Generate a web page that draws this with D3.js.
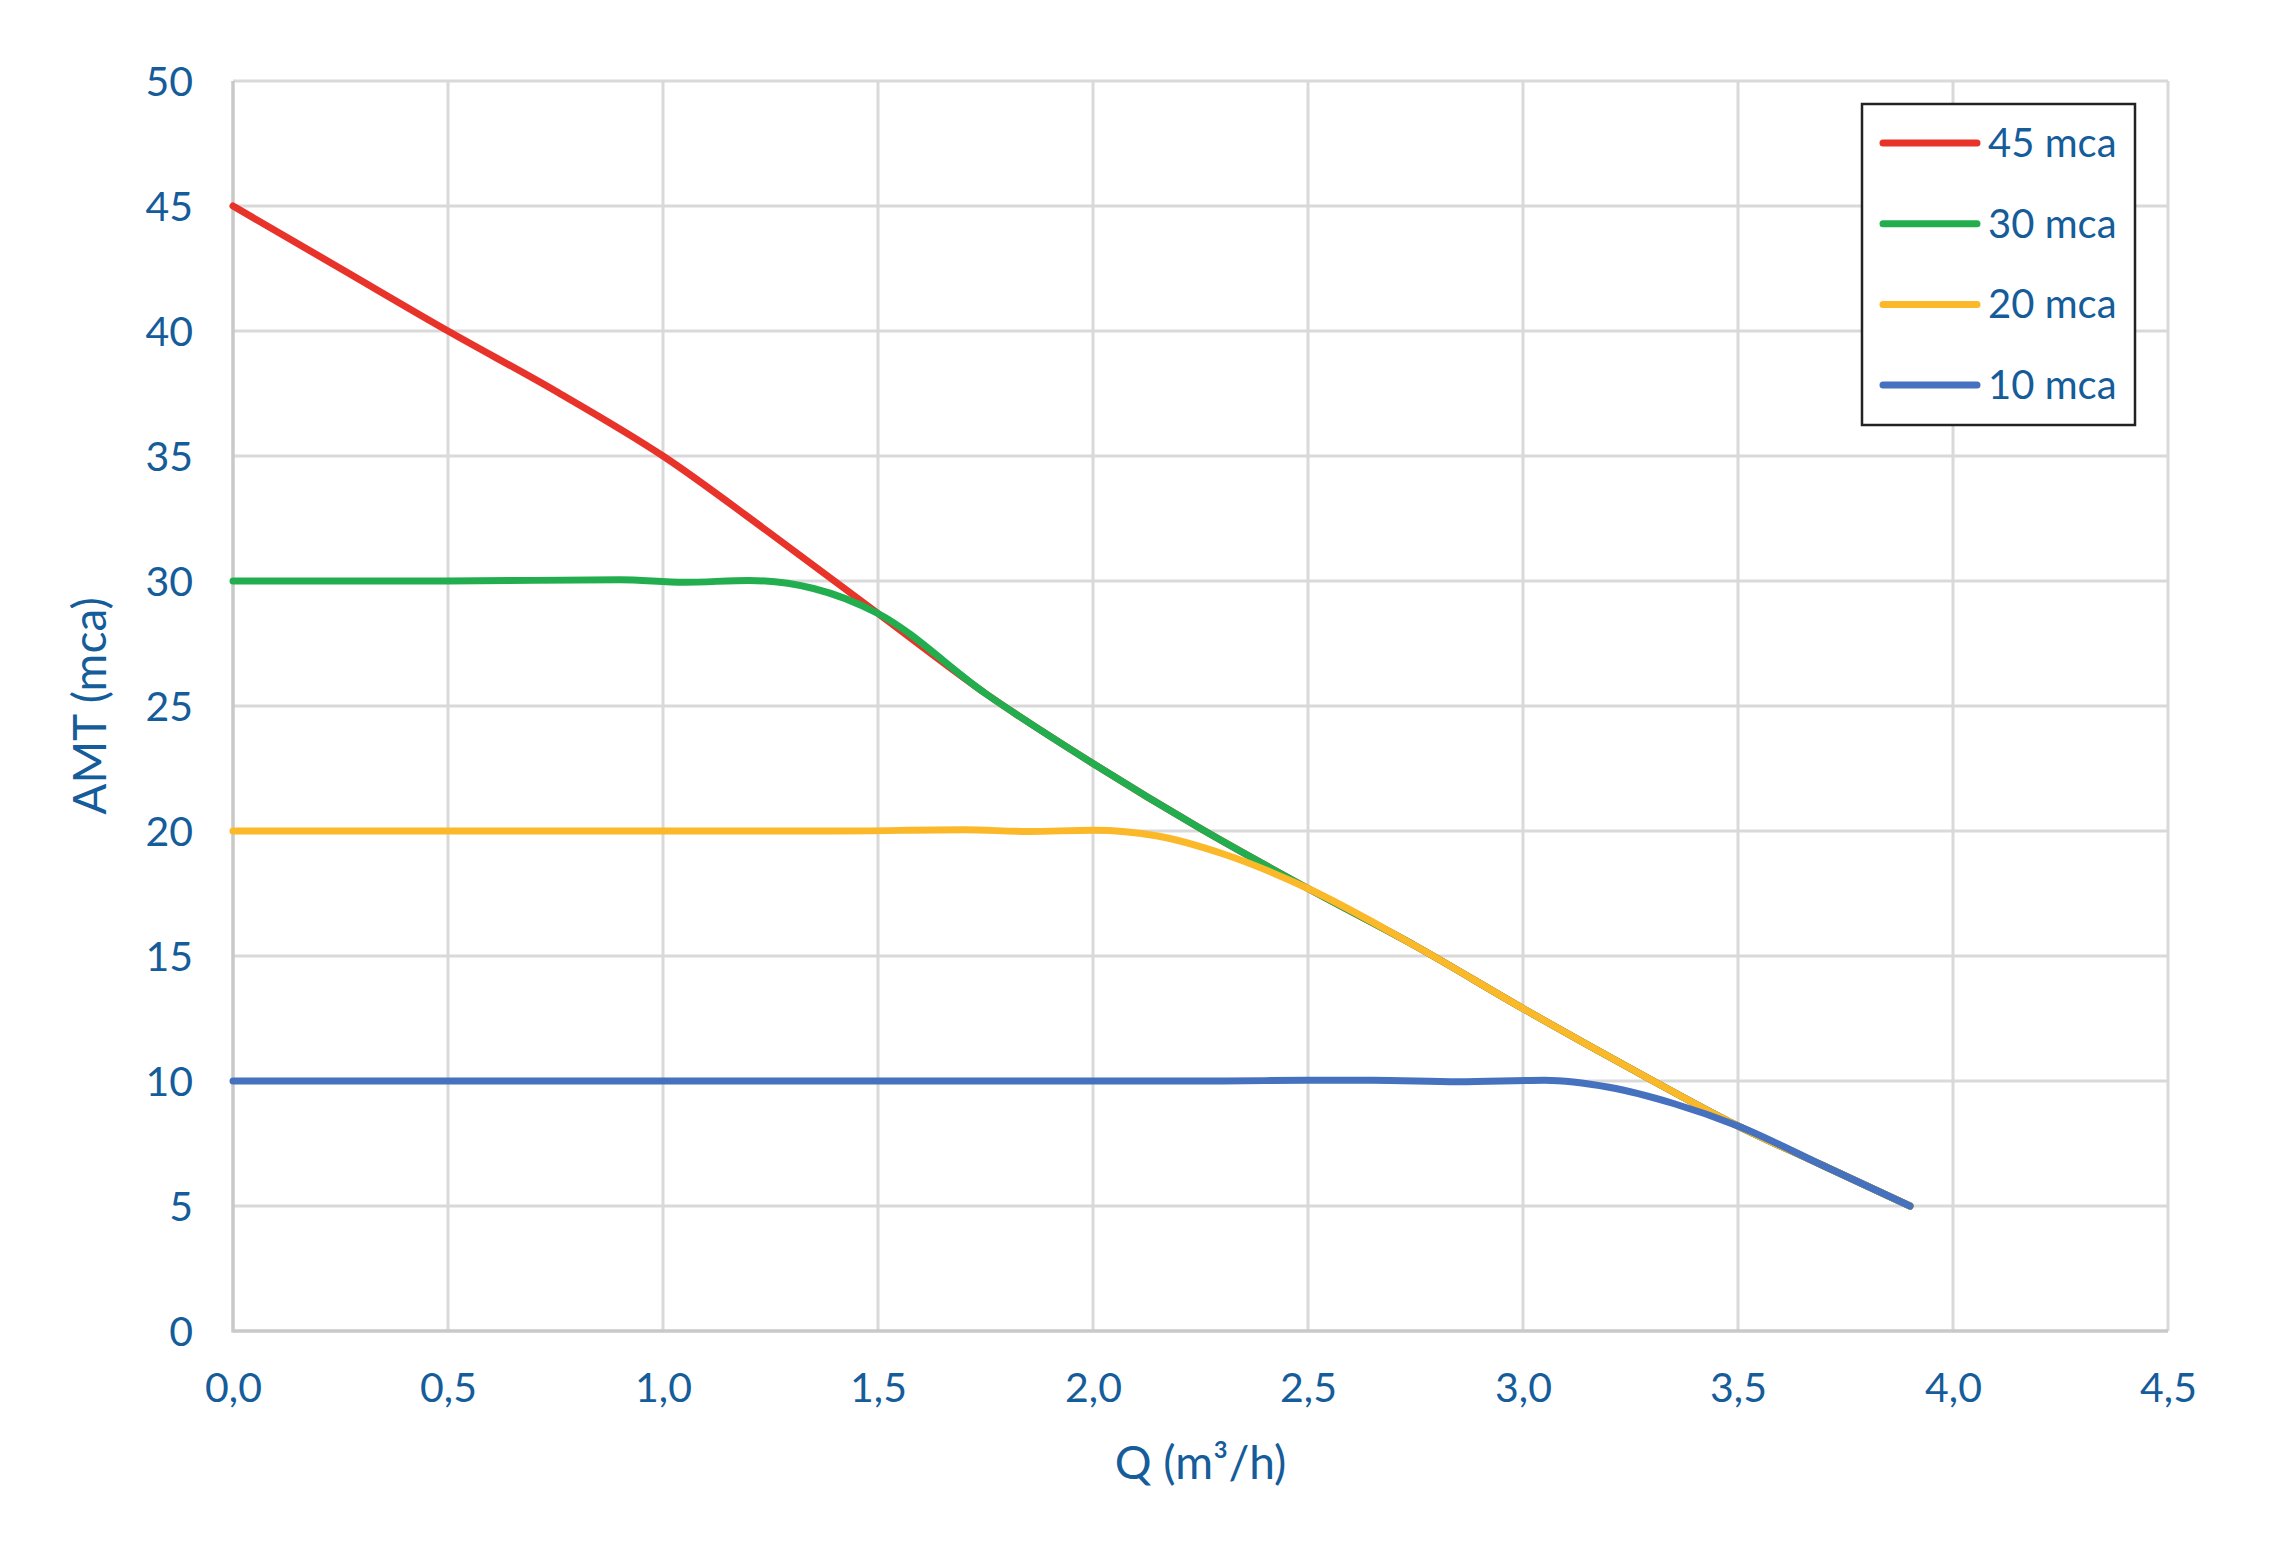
<!DOCTYPE html>
<html><head><meta charset="utf-8">
<script src="https://cdn.jsdelivr.net/npm/d3@7"></script>
<style>body{margin:0;background:#fff}</style>
</head><body>
<svg id="chart" width="2283" height="1560"></svg>
<script>
const xTicks = [0, 0.5, 1.0, 1.5, 2.0, 2.5, 3.0, 3.5, 4.0, 4.5];
const yTicks = [0, 5, 10, 15, 20, 25, 30, 35, 40, 45, 50];
const seriesNames = ["45 mca", "30 mca", "20 mca", "10 mca"];
const seriesColors = ["#E8332A", "#22AE4E", "#FBB829", "#4571BF"];
const red45 = [[0,45],[0.25,42.5],[0.5,40],[0.75,37.6],[1.0,35],[1.25,31.9],[1.5,28.7],[1.75,25.5],[2.0,22.7],[2.25,20.1],[2.5,17.7],[2.75,15.4],[3.0,12.9],[3.25,10.5],[3.5,8.2],[3.7,6.6],[3.9,5]];
const green30 = [[0,30],[0.5,30],[0.9,30.05],[1.05,29.95],[1.2,30.02],[1.35,29.7],[1.5,28.7],[1.75,25.5],[2.0,22.7],[2.25,20.1],[2.5,17.7],[2.75,15.4],[3.0,12.9],[3.25,10.5],[3.5,8.2],[3.7,6.6],[3.9,5]];
const yellow20 = [[0,20],[0.5,20],[1.0,20],[1.4,20],[1.7,20.05],[1.85,19.98],[2.0,20.03],[2.15,19.8],[2.3,19.1],[2.5,17.7],[2.75,15.4],[3.0,12.9],[3.25,10.5],[3.5,8.2],[3.7,6.6],[3.9,5]];
const blue10 = [[0,10],[0.5,10],[1.0,10],[1.5,10],[2.0,10],[2.3,10],[2.5,10.03],[2.65,10.03],[2.85,9.97],[3.05,10.03],[3.2,9.75],[3.35,9.1],[3.5,8.2],[3.7,6.6],[3.9,5]];
const seriesData = [red45, green30, yellow20, blue10];

const M = {left: 233, right: 2168, top: 81, bottom: 1331};
const textColor = "#155C9A";
const font = "Lato, 'Open Sans', sans-serif";
const svg = d3.select("#chart");
const x = d3.scaleLinear().domain([0, 4.5]).range([M.left, M.right]);
const y = d3.scaleLinear().domain([0, 50]).range([M.bottom, M.top]);

// grid
const g = svg.append("g");
g.selectAll(".vg").data(xTicks.slice(1)).join("line")
  .attr("x1", d => x(d)).attr("x2", d => x(d)).attr("y1", M.top).attr("y2", M.bottom)
  .attr("stroke", "#D9D9D9").attr("stroke-width", 3);
g.selectAll(".hg").data(yTicks.slice(1)).join("line")
  .attr("x1", M.left).attr("x2", M.right).attr("y1", d => y(d)).attr("y2", d => y(d))
  .attr("stroke", "#D9D9D9").attr("stroke-width", 3);
// axes lines
g.append("line").attr("x1", M.left).attr("x2", M.left).attr("y1", M.top).attr("y2", M.bottom + 1.5)
  .attr("stroke", "#C9C9C9").attr("stroke-width", 3.5);
g.append("line").attr("x1", M.left).attr("x2", M.right).attr("y1", M.bottom).attr("y2", M.bottom)
  .attr("stroke", "#C9C9C9").attr("stroke-width", 3.5);

// tick labels via axes
const xAxis = d3.axisBottom(x).tickValues(xTicks).tickSize(0).tickPadding(0)
  .tickFormat(d => d3.format(".1f")(d).replace(".", ","));
const xa = svg.append("g").attr("transform", `translate(0,${M.bottom})`).call(xAxis);
xa.select(".domain").remove();
xa.selectAll("text").attr("y", 71).attr("dy", null).attr("fill", textColor)
  .style("font-family", font).style("font-size", "41px");

const yAxis = d3.axisLeft(y).tickValues(yTicks).tickSize(0).tickPadding(0).tickFormat(d3.format("d"));
const ya = svg.append("g").attr("transform", `translate(${M.left - 40},0)`).call(yAxis);
ya.select(".domain").remove();
ya.selectAll("text").attr("x", 0).attr("dy", "0.35em").attr("fill", textColor)
  .style("font-family", font).style("font-size", "41px");

// titles
svg.append("text").attr("x", (M.left + M.right) / 2 ).attr("y", 1479).attr("text-anchor", "middle")
  .attr("fill", textColor).style("font-family", font).style("font-size", "46px").text("Q (m³/h)");
svg.append("text").attr("transform", `translate(106,${(M.top + M.bottom) / 2}) rotate(-90)`)
  .attr("text-anchor", "middle").attr("fill", textColor).style("font-family", font)
  .style("font-size", "46px").text("AMT (mca)");

// lines
const line = d3.line().x(d => x(d[0])).y(d => y(d[1])).curve(d3.curveMonotoneX);
svg.append("g").selectAll("path").data(seriesData).join("path")
  .attr("d", line).attr("fill", "none")
  .attr("stroke", (d, i) => seriesColors[i]).attr("stroke-width", 7)
  .attr("stroke-linecap", "round").attr("stroke-linejoin", "round");

// legend
const lg = svg.append("g");
lg.append("rect").attr("x", 1862).attr("y", 104).attr("width", 273).attr("height", 321)
  .attr("fill", "#fff").attr("stroke", "#222").attr("stroke-width", 2.5);
const rows = lg.selectAll(".row").data(seriesNames).join("g")
  .attr("transform", (d, i) => `translate(0,${143 + i * 80.7})`);
rows.append("line").attr("x1", 1883).attr("x2", 1977).attr("y1", 0).attr("y2", 0)
  .attr("stroke", (d, i) => seriesColors[i]).attr("stroke-width", 7).attr("stroke-linecap", "round");
rows.append("text").attr("x", 1988).attr("y", 0).attr("dy", "0.35em").attr("fill", textColor)
  .style("font-family", font).style("font-size", "40px").text(d => d);
</script>
</body></html>
